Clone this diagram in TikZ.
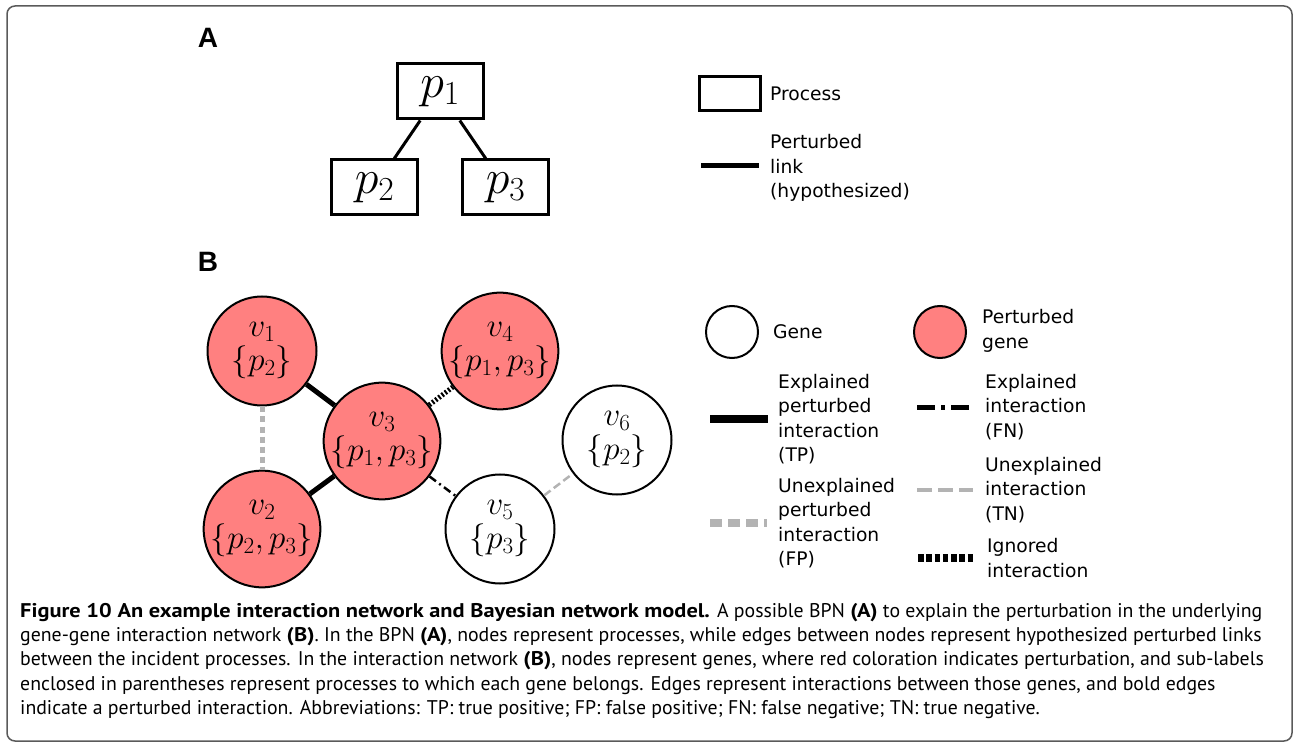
\RequirePackage{fix-cm}
\documentclass[tikz,border=0pt]{standalone}
\usepackage[no-math]{fontspec}
\newfontfamily\legendfont{DejaVu Sans}
\newfontfamily\captionfont{PT Sans}[BoldFeatures={FakeStretch=1.13}]
\newfontfamily\panelfont{Liberation Sans}
\usetikzlibrary{positioning}
\definecolor{genered}{RGB}{255,128,128}
\definecolor{linkgray}{RGB}{179,179,179}
\definecolor{framegray}{RGB}{90,90,90}

\begin{document}
\begin{tikzpicture}[x=1pt, y=-1pt,
  process/.style = {shape=rectangle, draw, line width=3pt,
    minimum width=86pt, minimum height=55pt, inner sep=0pt,
    font=\fontsize{48}{48}\selectfont},
  gene/.style = {shape=circle, draw, line width=2pt,
    minimum size=109pt, inner sep=0pt, align=center,
    font=\fontsize{33}{34}\selectfont},
  perturbed/.style = {gene, fill=genered},
  panel/.style = {inner sep=0pt, font=\panelfont\bfseries\fontsize{28}{28}\selectfont},
  legtext/.style = {anchor=west, align=left, inner sep=0pt,
    font=\legendfont\fontsize{18.7}{24.5}\selectfont},
  tp/.style = {line width=5pt},
  fp/.style = {line width=5pt, linkgray, dash pattern=on 6pt off 4pt},
  fn/.style = {line width=2.5pt, dash pattern=on 8pt off 4pt on 2pt off 4pt},
  tn/.style = {line width=2.5pt, linkgray, dash pattern=on 8pt off 4pt},
  ign/.style = {line width=5pt, dash pattern=on 2pt off 2pt}
]
  \useasboundingbox (0,0) rectangle (1294,743);
  \draw[framegray, line width=1.5pt, rounded corners=8pt] (7,6) rectangle (1292,741);

  % panel A: the BPN
  \node[panel] (lblA) at (208,38) {A};
  \node[process] (p1) at (440,91.5) {$p_1$}
    [level distance=96pt, sibling distance=131pt,
     edge from parent/.style={draw, line width=3pt}]
    child { node[process] (p2) {$p_2$} }
    child { node[process] (p3) {$p_3$} };

  \node[process, minimum width=61pt, minimum height=34pt] (prockey) at (729.5,94) {};
  \node[legtext] (proctext) at (770,94) {Process};
  \coordinate (linkL) at (701,166);
  \coordinate (linkR) at (759,166);
  \draw[tp] (linkL) -- (linkR);
  \node[legtext] (linktext) at (770,168) {Perturbed\\link\\(hypothesized)};

  % panel B: the interaction network
  \node[panel] (lblB) at (208,262) {B};
  \node[perturbed] (v1) at (262,351) {$v_1$\\$\{p_2\}$};
  \node[perturbed] (v3) at (382,441) {$v_3$\\$\{p_1,p_3\}$};
  \node[perturbed] (v2) at (262,529) {$v_2$\\$\{p_2,p_3\}$};
  \node[perturbed] (v4) at (500,351) {$v_4$\\$\{p_1,p_3\}$};
  \node[gene] (v5) at (500,529) {$v_5$\\$\{p_3\}$};
  \node[gene] (v6) at (617,440) {$v_6$\\$\{p_2\}$};

  \draw[tp] (v1) -- (v3);
  \draw[tp] (v2) -- (v3);
  \draw[fp] (v1) -- (v2);
  \draw[ign] (v3) -- (v4);
  \draw[fn] (v3) -- (v5);
  \draw[tn] (v5) -- (v6);

  % legend B
  \node[gene, minimum size=52pt] (genekey) at (732,332) {};
  \node[legtext] (genetext) at (773,332) {Gene};
  \node[perturbed, minimum size=52pt] (pertkey) at (940,332) {};
  \node[legtext] (perttext) at (982,331) {Perturbed\\gene};

  \coordinate (tpL) at (710,419);
  \coordinate (tpR) at (768,419);
  \draw[tp, line width=8pt] (tpL) -- (tpR);
  \node[legtext] (tptext) at (778,419) {Explained\\perturbed\\interaction\\(TP)};

  \coordinate (fpL) at (710,523);
  \coordinate (fpR) at (767,523);
  \draw[fp, line width=8pt, dash pattern=on 12pt off 6pt] (fpL) -- (fpR);
  \node[legtext] (fptext) at (778,523) {Unexplained\\perturbed\\interaction\\(FP)};

  \coordinate (fnL) at (917,408);
  \coordinate (fnR) at (973,408);
  \draw[fn, line width=5pt, dash pattern=on 18pt off 6pt on 4pt off 6pt] (fnL) -- (fnR);
  \node[legtext] (fntext) at (985,407) {Explained\\interaction\\(FN)};

  \coordinate (tnL) at (917,490);
  \coordinate (tnR) at (973,490);
  \draw[tn, line width=4pt, dash pattern=on 15pt off 6pt] (tnL) -- (tnR);
  \node[legtext] (tntext) at (985,490) {Unexplained\\interaction\\(TN)};

  \coordinate (ignL) at (918,558);
  \coordinate (ignR) at (975,558);
  \draw[ign, line width=8pt, dash pattern=on 5.5pt off 2.75pt] (ignL) -- (ignR);
  \node[legtext] (igntext) at (987,558) {Ignored\\interaction};

  % caption
  \node[anchor=north west, align=left, inner sep=0pt,
    font=\captionfont\fontsize{19.8}{24.3}\selectfont] (caption) at (20,603)
    {\textbf{Figure 10 An example interaction network and Bayesian network model.} A possible BPN \textbf{(A)} to explain the perturbation in the underlying\\
     gene-gene interaction network \textbf{(B)}. In the BPN \textbf{(A)}, nodes represent processes, while edges between nodes represent hypothesized perturbed links\\
     between the incident processes. In the interaction network \textbf{(B)}, nodes represent genes, where red coloration indicates perturbation, and sub-labels\\
     enclosed in parentheses represent processes to which each gene belongs. Edges represent interactions between those genes, and bold edges\\
     indicate a perturbed interaction. Abbreviations: TP: true positive; FP: false positive; FN: false negative; TN: true negative.};
\end{tikzpicture}
\end{document}
